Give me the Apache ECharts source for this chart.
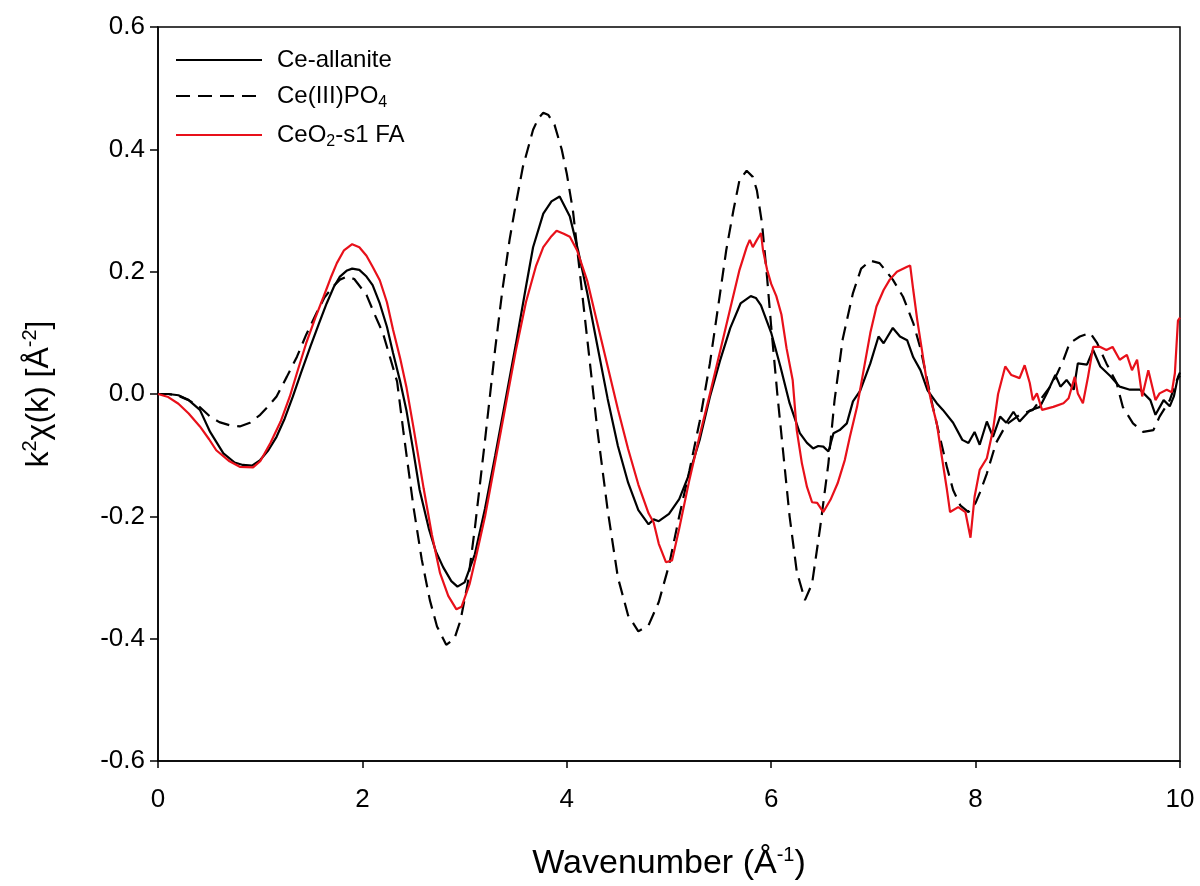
<!DOCTYPE html>
<html>
<head>
<meta charset="utf-8">
<script src="https://cdn.jsdelivr.net/npm/echarts@6/dist/echarts.min.js"></script>
<style>
html,body{margin:0;padding:0;background:#fff;}
#chart{width:1200px;height:886px;}
</style>
</head>
<body>
<div id="chart"></div>
<script>
// ---- data: [k (Å^-1), k^2 chi(k) (Å^-2)] ----
const seriesNames = ['Ce-allanite', 'Ce(III)PO4', 'CeO2-s1 FA'];
const xTicks = [0, 2, 4, 6, 8, 10];
const yTicks = [-0.6, -0.4, -0.2, 0.0, 0.2, 0.4, 0.6];

const allaniteK = [0,0.1,0.2,0.3,0.41,0.51,0.64,0.75,0.83,0.92,1.0,1.08,1.16,1.24,1.32,1.4,1.49,1.57,1.65,1.72,1.78,1.85,1.9,1.97,2.04,2.1,2.17,2.24,2.3,2.37,2.43,2.5,2.56,2.65,2.72,2.79,2.87,2.93,3.0,3.1,3.2,3.3,3.4,3.5,3.6,3.67,3.77,3.85,3.93,4.03,4.11,4.2,4.3,4.4,4.5,4.6,4.7,4.8,4.85,4.9,5.0,5.1,5.2,5.3,5.4,5.5,5.6,5.7,5.8,5.85,5.9,6.0,6.09,6.18,6.28,6.35,6.41,6.46,6.51,6.56,6.61,6.67,6.74,6.8,6.87,6.97,7.05,7.1,7.19,7.26,7.33,7.39,7.46,7.53,7.62,7.68,7.78,7.87,7.93,7.99,8.04,8.11,8.17,8.24,8.3,8.37,8.43,8.53,8.63,8.7,8.78,8.83,8.89,8.96,9.0,9.09,9.15,9.22,9.32,9.41,9.51,9.61,9.71,9.76,9.84,9.9,9.94,9.98,10.0];
const allaniteV = [0,0,-0.002,-0.01,-0.026,-0.062,-0.097,-0.112,-0.116,-0.117,-0.108,-0.092,-0.07,-0.04,-0.004,0.035,0.077,0.113,0.148,0.175,0.192,0.202,0.205,0.203,0.192,0.178,0.148,0.11,0.067,0.02,-0.026,-0.095,-0.157,-0.22,-0.258,-0.283,-0.306,-0.315,-0.308,-0.262,-0.187,-0.1,-0.01,0.08,0.175,0.24,0.295,0.315,0.323,0.29,0.235,0.165,0.078,-0.008,-0.085,-0.145,-0.19,-0.213,-0.205,-0.208,-0.196,-0.172,-0.13,-0.075,-0.005,0.055,0.108,0.148,0.16,0.157,0.145,0.1,0.045,-0.015,-0.064,-0.08,-0.089,-0.085,-0.086,-0.094,-0.064,-0.059,-0.048,-0.012,0.005,0.05,0.094,0.083,0.108,0.094,0.088,0.06,0.039,0.006,-0.015,-0.026,-0.047,-0.075,-0.08,-0.062,-0.083,-0.045,-0.07,-0.037,-0.047,-0.029,-0.045,-0.027,-0.021,0.002,0.031,0.012,0.023,0.007,0.05,0.048,0.072,0.045,0.029,0.012,0.007,0.007,-0.01,-0.034,-0.01,-0.02,-0.004,0.028,0.035];

const phosphatePairs = [[0,0],[0.1,0],[0.2,-0.003],[0.3,-0.01],[0.4,-0.02],[0.51,-0.037],[0.6,-0.046],[0.7,-0.051],[0.8,-0.053],[0.9,-0.047],[1.0,-0.034],[1.08,-0.02],[1.16,-0.004],[1.26,0.028],[1.36,0.061],[1.45,0.097],[1.55,0.132],[1.63,0.158],[1.71,0.175],[1.78,0.187],[1.85,0.192],[1.92,0.188],[2.04,0.162],[2.12,0.13],[2.2,0.1],[2.27,0.06],[2.34,0.02],[2.4,-0.06],[2.5,-0.185],[2.58,-0.27],[2.66,-0.337],[2.73,-0.38],[2.82,-0.41],[2.9,-0.4],[2.96,-0.37],[3.03,-0.31],[3.1,-0.22],[3.2,-0.075],[3.3,0.075],[3.37,0.17],[3.44,0.252],[3.49,0.3],[3.57,0.371],[3.67,0.432],[3.72,0.45],[3.77,0.46],[3.82,0.456],[3.88,0.44],[3.95,0.4],[4.0,0.36],[4.06,0.3],[4.1,0.24],[4.2,0.09],[4.3,-0.06],[4.4,-0.19],[4.5,-0.3],[4.6,-0.362],[4.7,-0.388],[4.8,-0.378],[4.9,-0.34],[5.0,-0.28],[5.1,-0.2],[5.2,-0.125],[5.3,-0.045],[5.4,0.05],[5.5,0.165],[5.56,0.235],[5.63,0.3],[5.69,0.35],[5.76,0.365],[5.82,0.355],[5.86,0.333],[5.91,0.279],[5.96,0.19],[6.0,0.11],[6.06,0.0],[6.12,-0.1],[6.18,-0.2],[6.25,-0.29],[6.33,-0.337],[6.4,-0.31],[6.48,-0.217],[6.56,-0.113],[6.62,-0.01],[6.7,0.09],[6.8,0.165],[6.88,0.205],[6.97,0.218],[7.06,0.214],[7.19,0.187],[7.29,0.159],[7.39,0.116],[7.46,0.075],[7.52,0.028],[7.58,-0.02],[7.65,-0.07],[7.72,-0.12],[7.78,-0.157],[7.85,-0.182],[7.93,-0.193],[8.0,-0.178],[8.04,-0.162],[8.11,-0.13],[8.2,-0.08],[8.3,-0.05],[8.43,-0.034],[8.56,-0.026],[8.63,-0.01],[8.73,0.012],[8.8,0.034],[8.86,0.056],[8.92,0.083],[9.02,0.094],[9.12,0.1],[9.19,0.083],[9.28,0.05],[9.38,0.018],[9.44,-0.021],[9.54,-0.048],[9.64,-0.062],[9.74,-0.059],[9.8,-0.037],[9.9,-0.01],[9.97,0.023],[10.0,0.03]];

const ceo2Pairs = [[0,0],[0.1,-0.005],[0.2,-0.016],[0.3,-0.032],[0.41,-0.053],[0.5,-0.074],[0.57,-0.092],[0.7,-0.11],[0.8,-0.119],[0.93,-0.12],[1.0,-0.11],[1.1,-0.08],[1.2,-0.045],[1.29,-0.004],[1.37,0.04],[1.45,0.083],[1.54,0.125],[1.62,0.159],[1.69,0.19],[1.75,0.214],[1.82,0.235],[1.9,0.245],[1.97,0.24],[2.04,0.226],[2.1,0.208],[2.17,0.186],[2.24,0.15],[2.3,0.105],[2.37,0.058],[2.43,0.012],[2.5,-0.055],[2.6,-0.155],[2.68,-0.23],[2.76,-0.293],[2.84,-0.33],[2.92,-0.352],[2.97,-0.348],[3.05,-0.31],[3.12,-0.26],[3.2,-0.2],[3.3,-0.11],[3.4,-0.02],[3.5,0.07],[3.6,0.15],[3.7,0.21],[3.77,0.24],[3.85,0.258],[3.9,0.267],[3.97,0.262],[4.03,0.257],[4.1,0.235],[4.2,0.185],[4.3,0.115],[4.4,0.045],[4.5,-0.025],[4.6,-0.09],[4.7,-0.148],[4.8,-0.195],[4.85,-0.21],[4.9,-0.245],[4.97,-0.275],[5.03,-0.272],[5.1,-0.22],[5.2,-0.14],[5.3,-0.068],[5.4,0.0],[5.5,0.07],[5.6,0.14],[5.69,0.203],[5.76,0.24],[5.79,0.252],[5.82,0.24],[5.86,0.252],[5.9,0.263],[5.92,0.235],[5.96,0.203],[6.0,0.18],[6.05,0.16],[6.1,0.13],[6.15,0.075],[6.21,0.023],[6.25,-0.059],[6.3,-0.113],[6.35,-0.152],[6.4,-0.177],[6.45,-0.178],[6.51,-0.193],[6.58,-0.173],[6.65,-0.146],[6.72,-0.108],[6.77,-0.07],[6.84,-0.021],[6.9,0.035],[6.97,0.1],[7.03,0.143],[7.1,0.17],[7.16,0.187],[7.23,0.2],[7.33,0.208],[7.36,0.21],[7.39,0.17],[7.43,0.12],[7.47,0.077],[7.52,0.023],[7.57,-0.015],[7.62,-0.048],[7.67,-0.103],[7.72,-0.157],[7.75,-0.193],[7.83,-0.185],[7.9,-0.193],[7.95,-0.235],[7.99,-0.168],[8.04,-0.124],[8.11,-0.105],[8.17,-0.059],[8.22,0.0],[8.29,0.045],[8.35,0.031],[8.43,0.026],[8.48,0.047],[8.53,0.018],[8.56,-0.01],[8.6,0.001],[8.65,-0.026],[8.76,-0.021],[8.86,-0.015],[8.91,-0.007],[8.97,0.028],[9.0,0.001],[9.05,-0.015],[9.1,0.028],[9.15,0.077],[9.22,0.077],[9.28,0.072],[9.34,0.077],[9.41,0.056],[9.48,0.064],[9.53,0.039],[9.58,0.056],[9.63,-0.004],[9.69,0.039],[9.76,-0.01],[9.8,0.001],[9.87,0.007],[9.92,0.003],[9.95,0.034],[9.98,0.12],[10.0,0.125]];

const allanitePairs = allaniteK.map((k, i) => [k, allaniteV[i]]);

const FONT = 'Liberation Sans, Arial, sans-serif';
const NARROW = 'Liberation Sans Narrow, Liberation Sans, Arial, sans-serif';

const chart = echarts.init(document.getElementById('chart'), null, {renderer: 'canvas'});
const legendLabels = {
  'Ce-allanite': '{g|}{t|Ce-allanite}',
  'Ce(III)PO4': '{g|}{t|Ce(III)PO}{sub|4}',
  'CeO2-s1 FA': '{g|}{t|CeO}{sub|2}{t|-s1 FA}'
};
chart.setOption({
  animation: false,
  backgroundColor: '#fff',
  grid: {left: 158, right: 20, top: 27, bottom: 125, show: true, borderColor: '#000', borderWidth: 1.5, backgroundColor: 'transparent'},
  legend: {
    orient: 'vertical', left: 170, top: 43, itemWidth: 86, itemHeight: 14, itemGap: 12,
    data: seriesNames,
    itemStyle: {opacity: 0},
    formatter: n => legendLabels[n],
    textStyle: {
      fontFamily: FONT, fontSize: 24, color: '#000',
      rich: {
        g: {width: 10},
        t: {fontFamily: FONT, fontSize: 24, color: '#000'},
        sub: {fontFamily: FONT, fontSize: 16, color: '#000', padding: [14, 0, 0, 0]}
      }
    }
  },
  xAxis: {
    type: 'value', min: 0, max: 10, interval: 2,
    axisLine: {show: true, onZero: false, lineStyle: {color: '#000', width: 1.5}},
    axisTick: {show: true, inside: false, length: 7, lineStyle: {color: '#000', width: 1.5}},
    axisLabel: {color: '#000', fontSize: 26, fontFamily: NARROW, margin: 26, formatter: v => String(v)},
    splitLine: {show: false},
    name: '{t|Wavenumber (Å}{sup|-1}{t|)}',
    nameLocation: 'middle', nameGap: 84,
    nameTextStyle: {
      fontFamily: NARROW, fontSize: 34, color: '#000',
      rich: {
        t: {fontFamily: NARROW, fontSize: 34, color: '#000'},
        sup: {fontFamily: NARROW, fontSize: 20, color: '#000', padding: [0, 0, 18, 0]}
      }
    }
  },
  yAxis: {
    type: 'value', min: -0.6, max: 0.6, interval: 0.2,
    axisLine: {show: true, onZero: false, lineStyle: {color: '#000', width: 1.5}},
    axisTick: {show: true, inside: false, length: 8, lineStyle: {color: '#000', width: 1.5}},
    axisLabel: {color: '#000', fontSize: 26, fontFamily: FONT, margin: 13, formatter: v => (Math.abs(v) < 1e-9 ? 0 : v).toFixed(1)},
    splitLine: {show: false},
    name: '{t|k}{sup|2}{t|χ(k) [Å}{sup|-2}{t|]}',
    nameLocation: 'middle', nameGap: 100,
    nameTextStyle: {
      fontFamily: FONT, fontSize: 32, color: '#000',
      rich: {
        t: {fontFamily: FONT, fontSize: 32, color: '#000'},
        sup: {fontFamily: FONT, fontSize: 20, color: '#000', padding: [0, 0, 18, 0]}
      }
    }
  },
  series: [
    {name: seriesNames[0], type: 'line', data: allanitePairs, showSymbol: false, symbol: 'none', z: 3,
     lineStyle: {color: '#000', width: 2.2}, itemStyle: {color: '#000'}},
    {name: seriesNames[1], type: 'line', data: phosphatePairs, showSymbol: false, symbol: 'none', z: 2,
     lineStyle: {color: '#000', width: 2.2, type: [14, 8]}, itemStyle: {color: '#000'}},
    {name: seriesNames[2], type: 'line', data: ceo2Pairs, showSymbol: false, symbol: 'none', z: 4,
     lineStyle: {color: '#e8101a', width: 2.2}, itemStyle: {color: '#e8101a'}}
  ]
});
</script>
</body>
</html>
